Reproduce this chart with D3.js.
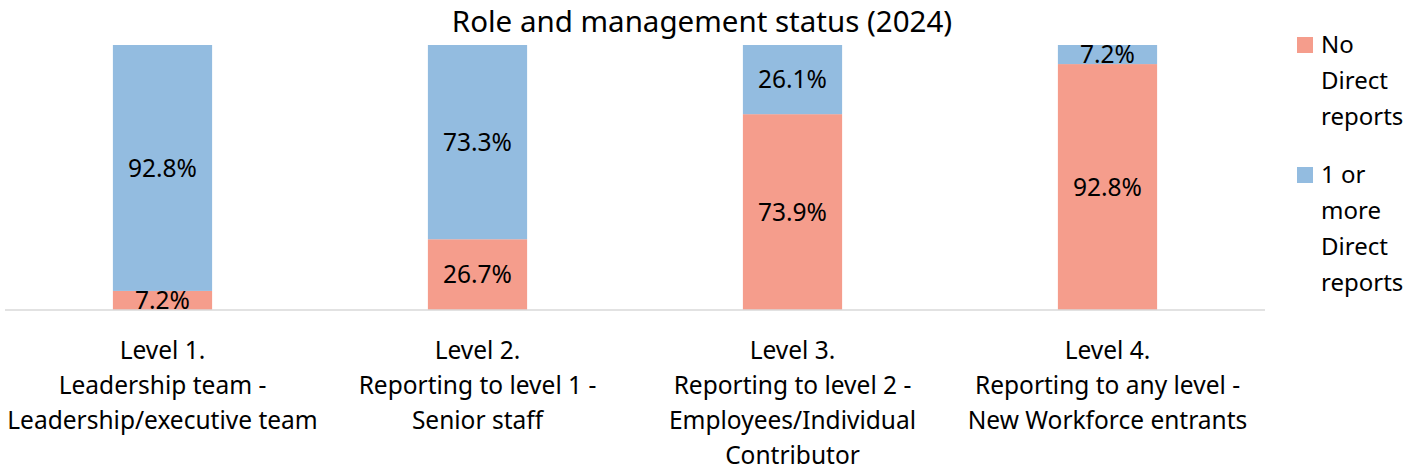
<!DOCTYPE html>
<html>
<head>
<meta charset="utf-8">
<script src="https://cdn.jsdelivr.net/npm/d3@7"></script>
<style>
  body { margin: 0; background: #fff; }
  text { font-family: "Segoe UI", "Noto Sans", "Open Sans", sans-serif; fill: #000; }
</style>
</head>
<body>
<div id="chart"></div>
<script>
const categories = ["Level 1", "Level 2", "Level 3", "Level 4"];
const categoryLabels = [
  ["Level 1.", "Leadership team -", "Leadership/executive team"],
  ["Level 2.", "Reporting to level 1 -", "Senior staff"],
  ["Level 3.", "Reporting to level 2 -", "Employees/Individual", "Contributor"],
  ["Level 4.", "Reporting to any level -", "New Workforce entrants"]
];
const seriesNames = ["No Direct reports", "1 or more Direct reports"];
const legendLines = [["No", "Direct", "reports"], ["1 or", "more", "Direct", "reports"]];
const noDirect = [7.2, 26.7, 73.9, 92.8];
const oneOrMore = [92.8, 73.3, 26.1, 7.2];

const width = 1422, height = 474;

const svg = d3.select("#chart")
  .append("svg")
  .attr("width", width)
  .attr("height", height);

const x = d3.scaleBand()
  .domain(categories)
  .range([5, 1265])
  .paddingInner(0.685)
  .paddingOuter(0.3425);

const y = d3.scaleLinear()
  .domain([0, 100])
  .range([310, 45]);

const color = d3.scaleOrdinal()
  .domain(seriesNames)
  .range(["#F59D8C", "#93BCE0"]);

const rows = categories.map((c, i) => ({ cat: c, a: noDirect[i], b: oneOrMore[i] }));
const stacked = d3.stack().keys(["a", "b"])(rows);

svg.append("text")
  .attr("x", 702)
  .attr("y", 32)
  .attr("text-anchor", "middle")
  .style("font-size", "29.5px")
  .text("Role and management status (2024)");

stacked.forEach((layer, k) => {
  svg.append("g")
    .selectAll("rect")
    .data(layer)
    .enter()
    .append("rect")
    .attr("x", d => x(d.data.cat))
    .attr("y", d => y(d[1]))
    .attr("width", x.bandwidth())
    .attr("height", d => y(d[0]) - y(d[1]))
    .attr("fill", color(seriesNames[k]));
});

// baseline
svg.append("line")
  .attr("x1", 5)
  .attr("x2", 1265)
  .attr("y1", y(0))
  .attr("y2", y(0))
  .attr("stroke", "#d9d9d9")
  .attr("stroke-width", 1.5);

stacked.forEach(layer => {
  svg.append("g")
    .selectAll("text")
    .data(layer)
    .enter()
    .append("text")
    .attr("x", d => x(d.data.cat) + x.bandwidth() / 2)
    .attr("y", d => (y(d[0]) + y(d[1])) / 2)
    .attr("dy", "0.35em")
    .attr("text-anchor", "middle")
    .style("font-size", "24.5px")
    .text(d => (d[1] - d[0]).toFixed(1) + "%");
});

// category labels
categories.forEach((c, i) => {
  const t = svg.append("text")
    .attr("text-anchor", "middle")
    .style("font-size", "24.5px");
  categoryLabels[i].forEach((line, j) => {
    t.append("tspan")
      .attr("x", x(c) + x.bandwidth() / 2)
      .attr("y", 359 + j * 35)
      .text(line);
  });
});

// legend
const legendY = [45, 175];
seriesNames.forEach((s, i) => {
  const g = svg.append("g").attr("transform", `translate(1297, ${legendY[i]})`);
  g.append("rect")
    .attr("x", 0)
    .attr("y", -8)
    .attr("width", 16)
    .attr("height", 16)
    .attr("fill", color(s));
  const t = g.append("text").style("font-size", "24px");
  legendLines[i].forEach((line, j) => {
    t.append("tspan")
      .attr("x", 24)
      .attr("y", j * 36)
      .attr("dy", "0.35em")
      .text(line);
  });
});
</script>
</body>
</html>
